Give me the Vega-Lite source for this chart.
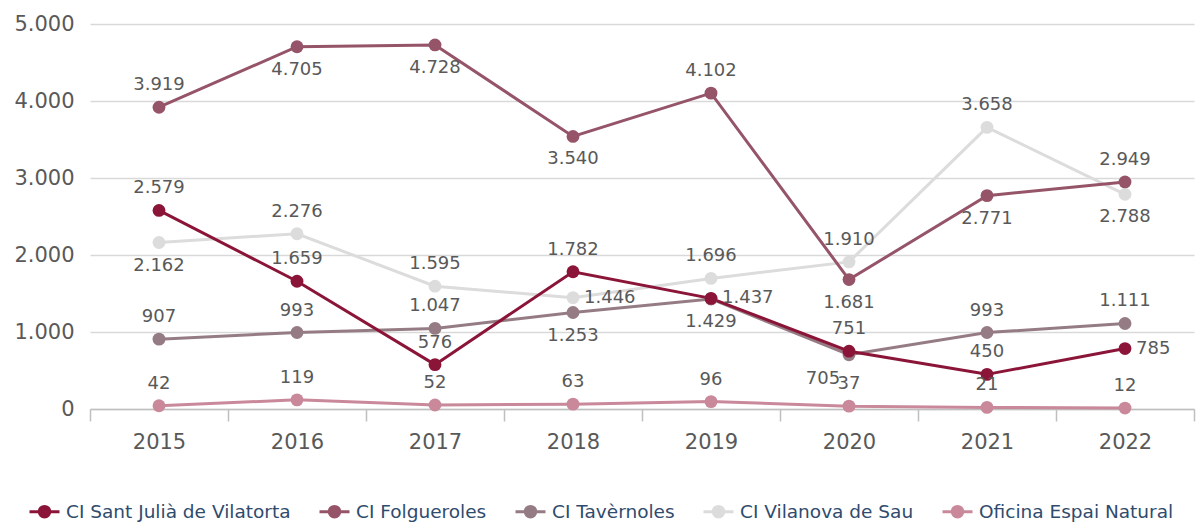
{
  "$schema": "https://vega.github.io/schema/vega-lite/v6.json",
  "width": 1104,
  "height": 385,
  "autosize": {"type": "none"},
  "padding": {"left": 90, "top": 24, "right": 4, "bottom": 114},
  "background": "white",
  "config": {
    "locale": {"number": {"decimal": ",", "thousands": ".", "grouping": [3], "currency": ["", " €"]}},
    "view": {"stroke": null},
    "font": "DejaVu Sans"
  },
  "data": {
    "values": [
      {"year": "2015", "series": "Oficina Espai Natural", "value": 42},
      {"year": "2016", "series": "Oficina Espai Natural", "value": 119},
      {"year": "2017", "series": "Oficina Espai Natural", "value": 52},
      {"year": "2018", "series": "Oficina Espai Natural", "value": 63},
      {"year": "2019", "series": "Oficina Espai Natural", "value": 96},
      {"year": "2020", "series": "Oficina Espai Natural", "value": 37},
      {"year": "2021", "series": "Oficina Espai Natural", "value": 21},
      {"year": "2022", "series": "Oficina Espai Natural", "value": 12},
      {"year": "2015", "series": "CI Vilanova de Sau", "value": 2162},
      {"year": "2016", "series": "CI Vilanova de Sau", "value": 2276},
      {"year": "2017", "series": "CI Vilanova de Sau", "value": 1595},
      {"year": "2018", "series": "CI Vilanova de Sau", "value": 1446},
      {"year": "2019", "series": "CI Vilanova de Sau", "value": 1696},
      {"year": "2020", "series": "CI Vilanova de Sau", "value": 1910},
      {"year": "2021", "series": "CI Vilanova de Sau", "value": 3658},
      {"year": "2022", "series": "CI Vilanova de Sau", "value": 2788},
      {"year": "2015", "series": "CI Tavèrnoles", "value": 907},
      {"year": "2016", "series": "CI Tavèrnoles", "value": 993},
      {"year": "2017", "series": "CI Tavèrnoles", "value": 1047},
      {"year": "2018", "series": "CI Tavèrnoles", "value": 1253},
      {"year": "2019", "series": "CI Tavèrnoles", "value": 1429},
      {"year": "2020", "series": "CI Tavèrnoles", "value": 705},
      {"year": "2021", "series": "CI Tavèrnoles", "value": 993},
      {"year": "2022", "series": "CI Tavèrnoles", "value": 1111},
      {"year": "2015", "series": "CI Folgueroles", "value": 3919},
      {"year": "2016", "series": "CI Folgueroles", "value": 4705},
      {"year": "2017", "series": "CI Folgueroles", "value": 4728},
      {"year": "2018", "series": "CI Folgueroles", "value": 3540},
      {"year": "2019", "series": "CI Folgueroles", "value": 4102},
      {"year": "2020", "series": "CI Folgueroles", "value": 1681},
      {"year": "2021", "series": "CI Folgueroles", "value": 2771},
      {"year": "2022", "series": "CI Folgueroles", "value": 2949},
      {"year": "2015", "series": "CI Sant Julià de Vilatorta", "value": 2579},
      {"year": "2016", "series": "CI Sant Julià de Vilatorta", "value": 1659},
      {"year": "2017", "series": "CI Sant Julià de Vilatorta", "value": 576},
      {"year": "2018", "series": "CI Sant Julià de Vilatorta", "value": 1782},
      {"year": "2019", "series": "CI Sant Julià de Vilatorta", "value": 1437},
      {"year": "2020", "series": "CI Sant Julià de Vilatorta", "value": 751},
      {"year": "2021", "series": "CI Sant Julià de Vilatorta", "value": 450},
      {"year": "2022", "series": "CI Sant Julià de Vilatorta", "value": 785}
    ]
  },
  "encoding": {
    "x": {
      "field": "year", "type": "ordinal", "sort": null,
      "scale": {"type": "band", "paddingInner": 0, "paddingOuter": 0},
      "axis": {
        "title": null, "labelAngle": 0, "tickBand": "extent",
        "domainColor": "#BFBFBF", "domainWidth": 1.5,
        "tickColor": "#BFBFBF", "tickWidth": 1.5, "tickSize": 12,
        "labelFontSize": 21, "labelColor": "#595959", "labelPadding": 10,
        "grid": false
      }
    },
    "y": {
      "field": "value", "type": "quantitative",
      "scale": {"domain": [0, 5000], "nice": false},
      "axis": {
        "title": null, "values": [0, 1000, 2000, 3000, 4000, 5000],
        "format": ",d", "domain": false, "ticks": false,
        "labelFontSize": 21, "labelColor": "#595959", "labelPadding": 16,
        "gridColor": "#D9D9D9", "gridWidth": 1.5
      }
    }
  },
  "layer": [
    {
      "mark": {"type": "line", "strokeWidth": 3},
      "encoding": {
        "color": {
          "field": "series", "type": "nominal",
          "scale": {
            "domain": ["CI Sant Julià de Vilatorta", "CI Folgueroles", "CI Tavèrnoles", "CI Vilanova de Sau", "Oficina Espai Natural"],
            "range": ["#8B1538", "#955468", "#957C84", "#DCDCDC", "#C9899B"]
          },
          "legend": {
            "orient": "none", "direction": "horizontal", "title": null,
            "legendX": -62, "legendY": 471, "padding": 0,
            "symbolType": "M-1,0L1,0M-0.35,0A0.35,0.35,0,1,0,0.35,0A0.35,0.35,0,1,0,-0.35,0Z",
            "symbolSize": 900, "symbolStrokeWidth": 3, "symbolOpacity": 1,
            "labelFontSize": 18.5, "labelColor": "#2F4B6E", "labelOffset": 5,
            "columnPadding": 22, "labelLimit": 400,
            "encode": {"symbols": {"update": {
              "stroke": {"scale": "color", "field": "value"},
              "fill": {"scale": "color", "field": "value"},
              "strokeWidth": {"value": 3}
            }}}
          }
        }
      }
    },
    {
      "mark": {"type": "point", "filled": true, "size": 165, "opacity": 1, "shape": "circle"},
      "encoding": {
        "color": {"field": "series", "type": "nominal", "legend": null}
      }
    },
    {
      "transform": [{"filter": "!((datum.series=='CI Folgueroles' && indexof(['2016','2017','2018','2020','2021'], datum.year)>=0) || (datum.series=='CI Vilanova de Sau' && indexof(['2015','2022','2018'], datum.year)>=0) || (datum.series=='CI Tavèrnoles' && indexof(['2018','2019','2020'], datum.year)>=0) || (datum.series=='CI Sant Julià de Vilatorta' && indexof(['2019','2022'], datum.year)>=0))"}],
      "mark": {"type": "text", "dy": -22, "fontSize": 18, "baseline": "middle", "align": "center"},
      "encoding": {"text": {"field": "value", "type": "quantitative", "format": ",d"}, "color": {"value": "#595959"}}
    },
    {
      "transform": [{"filter": "(datum.series=='CI Folgueroles' && indexof(['2016','2017','2018','2020','2021'], datum.year)>=0) || (datum.series=='CI Vilanova de Sau' && indexof(['2015','2022'], datum.year)>=0) || (datum.series=='CI Tavèrnoles' && indexof(['2018','2019'], datum.year)>=0)"}],
      "mark": {"type": "text", "dy": 23, "fontSize": 18, "baseline": "middle", "align": "center"},
      "encoding": {"text": {"field": "value", "type": "quantitative", "format": ",d"}, "color": {"value": "#595959"}}
    },
    {
      "transform": [{"filter": "(datum.series=='CI Vilanova de Sau' && datum.year=='2018') || (datum.series=='CI Sant Julià de Vilatorta' && indexof(['2019','2022'], datum.year)>=0)"}],
      "mark": {"type": "text", "dx": 11, "dy": 0, "fontSize": 18, "baseline": "middle", "align": "left"},
      "encoding": {"text": {"field": "value", "type": "quantitative", "format": ",d"}, "color": {"value": "#595959"}}
    },
    {
      "transform": [{"filter": "datum.series=='CI Tavèrnoles' && datum.year=='2020'"}],
      "mark": {"type": "text", "dx": -26, "dy": 24, "fontSize": 18, "baseline": "middle", "align": "center"},
      "encoding": {"text": {"field": "value", "type": "quantitative", "format": ",d"}, "color": {"value": "#595959"}}
    }
  ]
}
